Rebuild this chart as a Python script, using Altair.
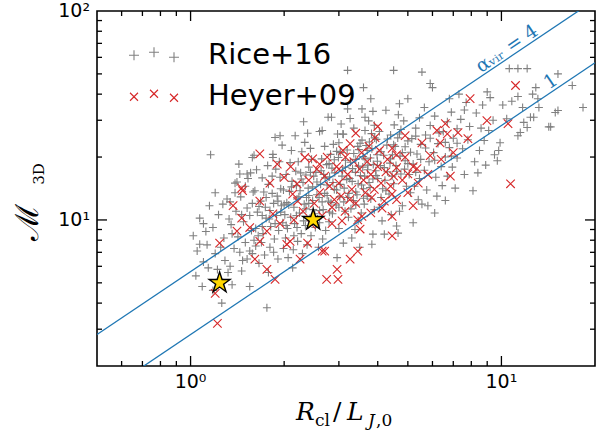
import altair as alt
import pandas as pd

# ---------------- data ----------------
rice_pts = [
    (1.05,7.1),(1.07,7.65),(1.04,5.4),(1.09,4.8),(1.26,4.0),(1.15,11.7),(1.07,10.2),(1.18,9.2),(1.27,11.9),(1.31,12.6),
    (1.16,20.5),(1.02,8.4),(1.1,6.3),(1.12,8.8),(1.2,6.9),(1.22,5.8),(1.25,7.4),(1.14,5.9),(1.28,8.2),(1.23,10.6),
    (1.1,9.6),(1.2,13.5),(1.29,6.4),(1.18,4.6),(1.24,5.2),(1.13,7.6),
    (1.34,6.0),(1.46,5.7),(1.55,4.8),(1.32,5.6),(1.36,4.9),(1.52,6.5),(1.35,9.5),(1.4,11),(1.45,12.9),(1.5,14.5),
    (1.38,7.3),(1.42,8.3),(1.48,9.8),(1.55,10.5),(1.58,12),(1.33,10.1),(1.44,7.0),(1.5,7.8),(1.57,8.9),(1.39,13.5),
    (1.53,15.8),(1.56,16.8),(1.43,18.5),(1.6,20.4),(1.47,6.4),(1.58,6.9),(1.36,8.6),(1.52,11.4),(1.41,15.2),(1.59,13.6),
    (1.46,10.6),(1.34,12.2),
    (1.76,3.8),(1.62,7.5),(1.65,8.4),(1.7,9.3),(1.75,10.2),(1.8,11.1),(1.85,12),(1.9,13),(1.95,14.1),(1.64,10.9),
    (1.68,12.3),(1.72,13.6),(1.78,14.8),(1.83,16.2),(1.88,17.5),(1.93,19),(1.66,6.2),(1.73,6.8),(1.8,7.4),(1.86,8.1),
    (1.92,8.9),(1.98,9.7),(1.7,15.9),(1.77,18.2),(1.84,20.6),(1.97,22.8),(1.63,17.4),(1.81,9.3),(1.89,10.5),(1.96,11.7),
    (1.74,11.5),(1.69,7.8),(1.91,6.5),(1.99,7.3),(1.87,24.8),(1.78,5.6),(1.94,16.0),(1.61,13.8),
    (2.02,8.2),(2.05,9.1),(2.1,10.3),(2.15,11.5),(2.2,12.6),(2.25,13.8),(2.3,15.1),(2.35,16.4),(2.4,17.9),(2.45,19.5),
    (2.04,12.1),(2.08,13.7),(2.12,15.3),(2.18,17.1),(2.22,19),(2.28,21.2),(2.33,23.5),(2.38,26),(2.06,6.6),(2.14,7.2),
    (2.21,7.9),(2.27,8.6),(2.34,9.4),(2.42,10.2),(2.48,11.2),(2.03,16.5),(2.16,9.6),(2.24,10.8),(2.32,11.9),(2.4,13.1),
    (2.47,14.4),(2.09,18.8),(2.19,14.6),(2.29,6.9),(2.37,7.6),(2.44,8.4),(2.13,5.9),(2.26,16.8),(2.36,12.8),(2.49,16.2),
    (2.01,10.6),(2.43,22),(2.11,21.5),(2.31,29.5),
    (2.52,9.2),(2.56,10.1),(2.6,11.1),(2.65,12.2),(2.7,13.4),(2.75,14.7),(2.8,16.1),(2.85,17.7),(2.9,19.4),(2.95,21.3),
    (3.0,23.4),(3.1,25.7),(2.55,13.2),(2.62,14.8),(2.68,16.5),(2.74,18.4),(2.82,20.6),(2.88,23),(2.97,25.8),(3.05,28.8),
    (2.58,7.4),(2.66,8.1),(2.72,8.9),(2.79,9.8),(2.86,10.7),(2.94,11.8),(3.02,12.9),(3.12,14.2),(3.18,15.6),(2.53,16.9),
    (2.64,19.6),(2.78,12.3),(2.9,14),(3.08,17.2),(3.15,19.3),(3.0,9.1),(3.1,7.75),(2.96,6.6),(3.14,11.0),(2.7,22.5),
    (2.6,26.5),(3.2,34),(2.84,31),(3.03,21),
    (3.22,10.3),(3.28,11.3),(3.34,12.4),(3.4,13.6),(3.46,14.9),(3.52,16.3),(3.58,17.9),(3.64,19.6),(3.7,21.5),(3.76,23.6),
    (3.82,25.9),(3.9,28.4),(3.25,15.8),(3.32,17.6),(3.4,19.5),(3.48,21.7),(3.56,24.1),(3.64,26.8),(3.74,29.8),(3.86,33.1),
    (3.3,8.2),(3.38,9.0),(3.46,9.9),(3.54,10.8),(3.62,11.9),(3.7,13),(3.78,14.3),(3.86,15.7),(3.94,17.2),(3.83,7.65),
    (3.86,8.55),(3.6,12.7),(3.45,22.5),(3.2,52),(3.6,43),(3.8,38),(3.35,27.5),(3.98,20.5),(3.9,11.2),(3.72,18.3),
    (3.5,7.4),(3.96,24.3),
    (4.13,9.9),(4.2,8.55),(4.05,11.5),(4.1,12.8),(4.15,14.1),(4.22,15.5),(4.3,17),(4.38,18.7),(4.46,20.5),(4.55,22.5),
    (4.64,24.7),(4.75,27.1),(4.85,29.8),(4.08,18.2),(4.18,20.4),(4.28,22.8),(4.4,25.5),(4.52,28.5),(4.66,31.9),(4.8,11.7),
    (4.7,11),(4.6,9.35),(4.65,8.65),(4.5,52),(4.25,33.5),(4.35,13.3),(4.45,16.2),(4.58,18.2),(4.72,20.2),(4.9,22.4),
    (4.95,14.5),(4.88,17.5),(4.42,10.6),(4.05,26.5),(4.7,36),
    (5.2,9.7),(5.55,11.9),(5.8,11.7),(6.1,10.8),(5.1,13.5),(5.55,51),(5.9,45),(6.0,43),(5.05,16.5),(5.2,18.5),
    (5.35,20.7),(5.5,23),(5.7,25.5),(5.9,28.3),(6.1,31.4),(5.15,24.5),(5.3,27.5),(5.45,30.8),(5.65,34.5),(5.25,14.5),
    (5.45,15.8),(5.65,17.3),(5.85,19),(6.05,21),(6.25,23.2),(5.75,13.9),(6.15,16),(5.0,38),(5.4,12.5),(6.2,13),
    (6.4,18),(6.6,20),(6.8,22.2),(7.0,24.6),(7.2,27.3),(7.4,30.3),(7.6,33.6),(6.5,26.5),(6.7,29.5),(6.9,32.8),
    (6.45,14.6),(6.7,16.2),(6.95,17.9),(7.2,19.8),(7.5,21.9),(7.8,24.2),(7.1,14.2),(7.6,16.5),(6.8,38),(7.3,40),
    (7.9,28),(8.1,13.8),(6.6,12.4),(7.7,36.5),
    (8.2,19),(8.5,21.5),(8.8,24),(9.1,26.8),(9.4,30),(8.3,32.5),(8.7,35.5),(9.2,38.5),(8.4,16.8),(8.9,18.3),
    (9.5,20.5),(9.7,19.2),(9.8,21.5),(9.9,23.4),(8.6,27.5),(9.0,41),(10.1,35.5),
    (10.6,53),(11.3,53),(12.1,53),(15.2,50),(16.9,44),(18.3,34.5),(12.9,43),(12.6,40),(11.3,39),(13.1,38),
    (11.7,34.5),(13.2,34.5),(14.9,32.7),(15.2,33.4),(12.4,31),(12.7,31),(11.8,29.3),(12.1,27.7),(14.4,27.9),(11.5,26.2),
    (11.3,25.3),(10.4,30.5),(10.8,37),(14.2,27.9),
    (1.94,25.3),(1.58,19.9),(1.84,19.9),(1.44,16.6),(1.52,16.6),(1.39,15.0),(2.17,25.3),(2.77,31),(3.26,30.6),(2.65,26.8),
    (3.09,25.8),(3.56,34),(3.64,31),
    (1.62,9.1),(1.66,11.6),(1.71,8.6),(1.75,12.8),(1.79,10.1),(1.83,13.4),(1.87,9.6),(1.91,12.3),(1.95,10.9),(1.99,13.9),
    (2.03,9.4),(2.07,11.8),(2.11,14.4),(2.15,8.4),(2.19,10.5),(2.23,12.9),(2.27,15.7),(2.31,9.9),(2.35,11.3),(2.39,14.2),
    (2.43,16.9),(2.47,12.4),(2.51,10.7),(2.55,15.2),(2.59,12.8),(2.63,17.2),(2.67,11.2),(2.71,15.9),(2.75,13.1),(2.79,18.6),
    (2.83,12.1),(2.87,15.1),(2.91,16.8),(2.95,13.9),(2.99,19.9),(3.03,14.8),(3.07,16.2),(3.11,12.2),(3.15,17.9),(3.19,21.6),
    (3.23,13.4),(3.27,18.9),(3.31,15.3),(3.35,20.8),(3.39,16.9),(3.43,13.2),(3.47,18.1),(3.51,23.3),(3.55,14.7),(3.59,20.1),
    (3.63,16.2),(3.67,22.7),(3.71,17.4),(3.75,15.1),(3.79,19.8),(3.83,21.9),(3.87,18.4),(3.91,24.7),(3.95,16.3),(3.99,19.1),
    (4.1,21.2),(4.2,17.8),(4.3,24.4),(4.4,19.6),(4.5,22.9),(4.6,17.1),(4.7,25.8),(4.8,21),(4.9,19.2),(5.0,23.9),
    (5.1,21.1),(5.3,25.2),(5.5,19.5),(5.7,22.1),(5.9,24.6),(6.1,19.3),(6.3,26.1),(6.6,23.5),(6.9,20.2),(7.2,23.3),
    (1.55,7.1),(1.6,8.0),(1.7,10.5),(1.85,7.0),(2.0,11.9),(2.2,9.2),(2.4,12.0),(2.6,9.7),(2.8,10.9),(3.0,11.5),
    (3.2,12.8),(3.4,11.8),(3.6,14.1),(3.8,12.6),(4.0,15.8),(4.25,13.8),(4.5,14.9),(4.75,16.6),(5.0,18.6),(5.3,16.9),
]

heyer_pts = [
    (1.67,20.7),(1.46,14.2),(1.37,11.7),(3.26,23.2),(3.09,21.5),(2.33,19.9),(2.47,19.6),(2.2,14.9),(2.7,16.2),(3.92,24.8),
    (7.93,38.1),(8.98,29.9),(6.6,28.9),(6.2,26.8),(6.7,25.8),(7.25,26.2),(7.8,24.5),(6.35,23.4),(4.9,25.3),(5.55,23.4),
    (4.45,22),(5.9,20.3),(5.2,18),(5.35,17.6),(4.6,17.8),(4.5,16.2),(6.85,16.2),(5.0,16.6),(11.1,44),(10.5,28.9),
    (10.7,14.9),
    (1.46,10.2),(1.24,7.75),(1.41,8.85),(1.61,6.5),(1.76,5.8),(1.87,5.2),(1.2,4.45),(1.22,3.2),(1.67,12.3),(1.84,10.7),
    (1.67,7.9),(1.55,9.2),(1.94,9.6),(1.76,8.85),(1.47,13.8),
    (2.21,12.3),(2.13,13.3),(2.04,7.65),(2.09,7.9),(2.38,7.75),(2.25,6.5),(2.65,7.1),(2.7,7.1),(3.45,7.1),(3.26,6.5),
    (2.96,5.8),(2.74,5.2),(2.98,5.2),(3.51,9.05),(3.56,10.4),(3.07,9.9),(2.85,9.6),(3.14,11),(4.13,11.4),(4.2,12.3),
    (3.83,12.8),(5.2,11.7),(4.45,10.4),(4.45,8.4),(4.45,13.3),
    (2.3,11),(2.5,12),(2.6,13.5),(2.8,14.5),(2.9,12.5),(3.0,15),(3.2,16.5),(3.3,14),(3.4,12),(3.5,17.5),
    (3.6,15.5),(3.7,19),(3.8,16.5),(4.0,18),(4.1,15),(4.3,19.5),(4.4,14.5),(4.6,20.5),(4.8,15.5),(2.4,15.5),
    (2.55,17.5),(2.75,20),(2.95,18),(3.15,20),(3.35,19),(3.55,21),(3.75,22.5),(4.05,21.5),(4.25,17),(2.15,10),
    (2.45,9.5),(2.65,10.5),(2.85,11.5),(3.05,13),(3.25,12.5),(3.45,10),(3.65,13.5),(3.9,14),(4.6,12.5),(5.0,13.5),
    (5.4,15),(5.8,16.5),(6.4,19.5),(7.0,21),(3.0,17.5),(2.6,18.5),(2.0,16),(1.9,18.5),(1.8,15),(2.1,18),
    (3.4,26),(4.0,28),(3.8,10.8),(4.9,20),
]

star_x = [1.24, 2.48]
star_y = [5.0, 10.0]

line_x = [0.5, 20.0]
line_y_a4 = [2.83, 113.1]
line_y_a1 = [1.414, 56.57]

x_major = [1, 10]
x_minor = [0.6, 0.7, 0.8, 0.9, 2, 3, 4, 5, 6, 7, 8, 9]
y_major = [10]
y_minor = [3, 4, 5, 6, 7, 8, 9, 20, 30, 40, 50, 60, 70, 80, 90]
x_tick_labels = ["10\u2070", "10\u00b9"]
y_tick_values = [10, 100]
y_tick_labels = ["10\u00b9", "10\u00b2"]

legend_labels = ["Rice+16", "Heyer+09"]
line_labels = ["\u03b1\u1d65\u1d62\u1d63 = 4", "1"]
line_label_x = [10.4, 14.4]
line_label_y = [66.0, 46.0]

# ---------------- build ----------------
W, H = 498, 355
GRAY = "#808080"
RED = "#d62728"
BLUE = "#1f77b4"
SANS = "DejaVu Sans"
SERIF = "DejaVu Serif"

PLUS = "M-1,0L1,0M0,-1L0,1"
CROSS = "M-1,-1L1,1M-1,1L1,-1"
STAR = ("M0,-1L0.2245,-0.309L0.951,-0.309L0.363,0.118L0.588,0.809L0,0.382"
        "L-0.588,0.809L-0.363,0.118L-0.951,-0.309L-0.2245,-0.309Z")
TRIPLE_PLUS = ("M-1,0.01L-0.6,0.01M-0.8,-0.19L-0.8,0.21"
               "M-0.2,-0.11L0.2,-0.11M0,-0.31L0,0.09"
               "M0.6,0.09L1,0.09M0.8,-0.11L0.8,0.29")
TRIPLE_X = ("M-0.96,-0.13L-0.64,0.19M-0.96,0.19L-0.64,-0.13"
            "M-0.16,-0.25L0.16,0.07M-0.16,0.07L0.16,-0.25"
            "M0.64,-0.09L0.96,0.23M0.64,0.23L0.96,-0.09")

xs = alt.Scale(type="log", domain=[0.5, 20], nice=False)
ys = alt.Scale(type="log", domain=[2, 100], nice=False)

rice_df = pd.DataFrame(rice_pts, columns=["x", "y"])
heyer_df = pd.DataFrame(heyer_pts, columns=["x", "y"])
star_df = pd.DataFrame({"x": star_x, "y": star_y})
line_df = pd.DataFrame({
    "x": line_x + line_x,
    "y": line_y_a4 + line_y_a1,
    "s": ["a4", "a4", "a1", "a1"],
})
lab_df = pd.DataFrame({"x": line_label_x, "y": line_label_y, "t": line_labels})
leg_df = pd.DataFrame({"x": [0.1, 0.1], "y": [1.0, 1.0], "series": legend_labels})
xlab_df = pd.DataFrame({"v": x_major, "t": x_tick_labels})
ylab_df = pd.DataFrame({"v": y_tick_values, "t": y_tick_labels})

X = lambda f="x": alt.X(f"{f}:Q", scale=xs, axis=None)
Y = lambda f="y": alt.Y(f"{f}:Q", scale=ys, axis=None)

rice = alt.Chart(rice_df).mark_point(shape=PLUS, size=64, filled=False, color=GRAY,
                                     strokeWidth=1.1, opacity=1, clip=True).encode(x=X(), y=Y())
heyer = alt.Chart(heyer_df).mark_point(shape=CROSS, size=72, filled=False, color=RED,
                                       strokeWidth=1.1, opacity=1, clip=True).encode(x=X(), y=Y())
lines = alt.Chart(line_df).mark_line(color=BLUE, strokeWidth=1.3, clip=True).encode(
    x=X(), y=Y(), detail="s:N")
stars = alt.Chart(star_df).mark_point(shape=STAR, size=480, filled=True, fill="#FFD700",
                                      stroke="black", strokeWidth=1.4, opacity=1).encode(x=X(), y=Y())
line_text = alt.Chart(lab_df).mark_text(angle=326, color=BLUE, font=SERIF, fontSize=19,
                                        align="center", baseline="middle").encode(
    x=X(), y=Y(), text="t:N")

leg_common = dict(title=None, orient="none", legendX=31, legendY=18, symbolSize=2500,
                  symbolStrokeWidth=1.1, symbolOpacity=1, labelFont=SANS, labelFontSize=29,
                  labelColor="black", labelOffset=28, rowPadding=-7, padding=0)
legend_layer = alt.Chart(leg_df).mark_point(filled=False, strokeWidth=1.1, opacity=1, clip=True).encode(
    x=X(), y=Y(),
    color=alt.Color("series:N", scale=alt.Scale(domain=legend_labels, range=[GRAY, RED]),
                    legend=alt.Legend(**leg_common)),
    shape=alt.Shape("series:N", scale=alt.Scale(domain=legend_labels, range=[TRIPLE_PLUS, TRIPLE_X]),
                    legend=alt.Legend(**leg_common)),
)

# tick labels placed through the scales
xlabels = alt.Chart(xlab_df).mark_text(font=SANS, fontSize=19, color="black",
                                       align="center", baseline="top").encode(
    x=X("v"), y=alt.value(H + 7), text="t:N")
ylabels = alt.Chart(ylab_df).mark_text(font=SANS, fontSize=19, color="black",
                                       align="right", baseline="middle").encode(
    y=Y("v"), x=alt.value(-7), text="t:N")

# inward ticks on all four sides
TL_MAJ, TL_MIN = 10, 5
def xticks(vals, L):
    df = pd.DataFrame({"v": vals})
    b = alt.Chart(df).mark_rule(color="black", strokeWidth=1.3).encode(
        x=X("v"), y=alt.value(H), y2=alt.value(H - L))
    t = alt.Chart(df).mark_rule(color="black", strokeWidth=1.3).encode(
        x=X("v"), y=alt.value(0), y2=alt.value(L))
    return [b, t]
def yticks(vals, L):
    df = pd.DataFrame({"v": vals})
    l = alt.Chart(df).mark_rule(color="black", strokeWidth=1.3).encode(
        y=Y("v"), x=alt.value(0), x2=alt.value(L))
    r = alt.Chart(df).mark_rule(color="black", strokeWidth=1.3).encode(
        y=Y("v"), x=alt.value(W), x2=alt.value(W - L))
    return [l, r]

tick_layers = xticks(x_major, TL_MAJ) + xticks(x_minor, TL_MIN) + yticks(y_major, TL_MAJ) + yticks(y_minor, TL_MIN)

# axis titles (mathtext-like composition)
one = pd.DataFrame({"d": [0]})
def txt(s, px, py, size, italic=False, angle=0, align="left", baseline="alphabetic", font=SERIF):
    kw = dict(text=s, font=font, fontSize=size, color="black", align=align, baseline=baseline)
    if italic:
        kw["fontStyle"] = "italic"
    if angle:
        kw["angle"] = angle
    return alt.Chart(one).mark_text(**kw).encode(x=alt.value(px), y=alt.value(py))

titles = [
    txt("R", 199, 409, 25, italic=True),
    txt("cl", 218, 415, 17),
    txt("/", 236, 409, 25),
    txt("L", 250, 409, 25, italic=True),
    txt("J", 271, 415, 17, italic=True),
    txt(",0", 279, 415, 17),
    txt("\u2133", -69, 211, 32, angle=270, align="center", baseline="middle"),
    txt("3D", -58, 163, 15, angle=270, align="center", baseline="middle"),
]

chart = alt.layer(
    rice, heyer, lines, stars, line_text, legend_layer, xlabels, ylabels, *tick_layers, *titles
).properties(
    width=W, height=H,
    padding={"left": 97, "top": 11, "right": 18, "bottom": 68},
    autosize=alt.AutoSizeParams(type="none"),
).configure_view(stroke="black", strokeWidth=1.6)

chart.save("out.html", embed_options={"renderer": "svg", "actions": False})
